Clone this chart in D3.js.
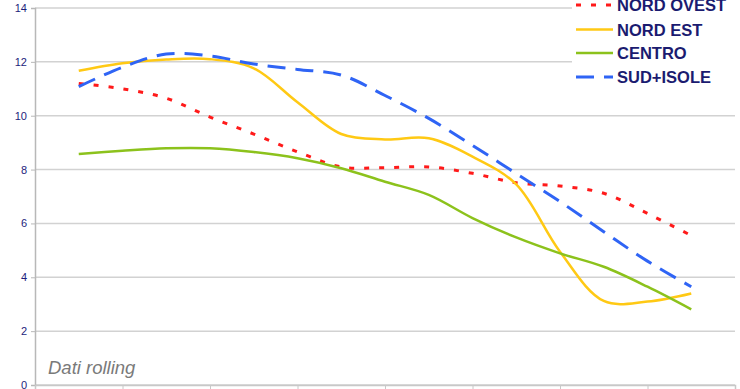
<!DOCTYPE html>
<html lang="it">
<head>
<meta charset="UTF-8">
<title>Dati rolling</title>
<script src="https://d3js.org/d3.v7.min.js"></script>
<style>
  * { margin: 0; padding: 0; }
  body { background: #fff; }
</style>
</head>
<body>
<div id="chart"></div>
<script>
// periodi (15 punti, etichette non mostrate nel grafico)
const periods = d3.range(15);
const yTicks = [0, 2, 4, 6, 8, 10, 12, 14];

const nordOvest = [11.2, 11.0, 10.65, 9.95, 9.32, 8.66, 8.1, 8.07, 8.1, 7.86, 7.51, 7.39, 7.12, 6.37, 5.55];
const nordEst   = [11.67, 11.95, 12.09, 12.1, 11.76, 10.5, 9.32, 9.12, 9.16, 8.48, 7.45, 4.95, 3.12, 3.1, 3.4];
const centro    = [8.58, 8.7, 8.79, 8.79, 8.65, 8.42, 8.05, 7.55, 7.06, 6.2, 5.48, 4.89, 4.39, 3.65, 2.81];
const sudIsole  = [11.08, 11.8, 12.29, 12.22, 11.92, 11.72, 11.51, 10.75, 9.9, 8.9, 7.85, 6.81, 5.69, 4.6, 3.65];

const series = [
  { name: "NORD OVEST", values: nordOvest, color: "#ff1a1a", width: 3, dash: "5,10" },
  { name: "NORD EST",   values: nordEst,   color: "#ffc914", width: 2.5, dash: null },
  { name: "CENTRO",     values: centro,    color: "#8cc21c", width: 2.5, dash: null },
  { name: "SUD+ISOLE",  values: sudIsole,  color: "#2f64f5", width: 3, dash: "18,10" }
];

const width = 740, height = 389;
const plotLeft = 35, plotRight = 735, plotTop = 8, plotBottom = 385;

const svg = d3.select("#chart").append("svg")
  .attr("width", width)
  .attr("height", height)
  .attr("font-family", "'Liberation Sans', Arial, sans-serif");

const x = d3.scaleLinear().domain([-1, 15]).range([plotLeft, plotRight]);
const y = d3.scaleLinear().domain([0, 14]).range([plotBottom, plotTop]);

// griglia orizzontale
svg.append("g")
  .selectAll("line")
  .data(yTicks)
  .join("line")
  .attr("x1", plotLeft).attr("x2", plotRight)
  .attr("y1", d => y(d)).attr("y2", d => y(d))
  .attr("stroke", "#d2d2d2")
  .attr("stroke-width", 1.5);

// asse y
const yAxis = svg.append("g")
  .attr("transform", `translate(${plotLeft},0)`)
  .call(d3.axisLeft(y).tickValues(yTicks).tickSize(4).tickPadding(4));
yAxis.select(".domain").attr("stroke", "#b8b8b8").attr("stroke-width", 1.5);
yAxis.selectAll(".tick line").attr("stroke", "#b8b8b8");
yAxis.selectAll("text")
  .attr("fill", "#1d1d7c")
  .attr("font-size", 11)
  .attr("font-family", "'Liberation Sans', Arial, sans-serif");

// asse x (solo tacche)
const xAxis = svg.append("g")
  .attr("transform", `translate(0,${plotBottom})`)
  .call(d3.axisBottom(x).tickValues(d3.range(-1, 16, 2)).tickSize(5).tickFormat(""));
xAxis.select(".domain").attr("stroke", "#c8c8c8").attr("stroke-width", 1.5);
xAxis.selectAll(".tick line").attr("stroke", "#c8c8c8");

// testo "Dati rolling"
svg.append("text")
  .attr("x", 48)
  .attr("y", 374)
  .attr("font-size", 18.5)
  .attr("font-style", "italic")
  .attr("fill", "#7a7a7a")
  .text("Dati rolling");

// linee
const line = d3.line()
  .x((d, i) => x(periods[i]))
  .y(d => y(d))
  .curve(d3.curveCatmullRom.alpha(0.5));

svg.append("g")
  .selectAll("path")
  .data(series)
  .join("path")
  .attr("d", d => line(d.values))
  .attr("fill", "none")
  .attr("stroke", d => d.color)
  .attr("stroke-width", d => d.width)
  .attr("stroke-dasharray", d => d.dash)
  .attr("stroke-linejoin", "round");

// legenda
const legend = svg.append("g");
legend.append("rect")
  .attr("x", 572).attr("y", 0)
  .attr("width", 168).attr("height", 90)
  .attr("fill", "#fff");

const rowY = [5, 29.5, 53, 77];
const rows = legend.selectAll("g.item")
  .data(series)
  .join("g")
  .attr("class", "item")
  .attr("transform", (d, i) => `translate(0,${rowY[i]})`);

rows.append("line")
  .attr("x1", 576).attr("x2", 613)
  .attr("y1", 0).attr("y2", 0)
  .attr("stroke", d => d.color)
  .attr("stroke-width", d => d.width)
  .attr("stroke-dasharray", d => d.dash);

rows.append("text")
  .attr("x", 617)
  .attr("y", 6)
  .attr("font-size", 16.5)
  .attr("font-weight", "bold")
  .attr("fill", "#1b1b70")
  .text(d => d.name);
</script>
</body>
</html>
